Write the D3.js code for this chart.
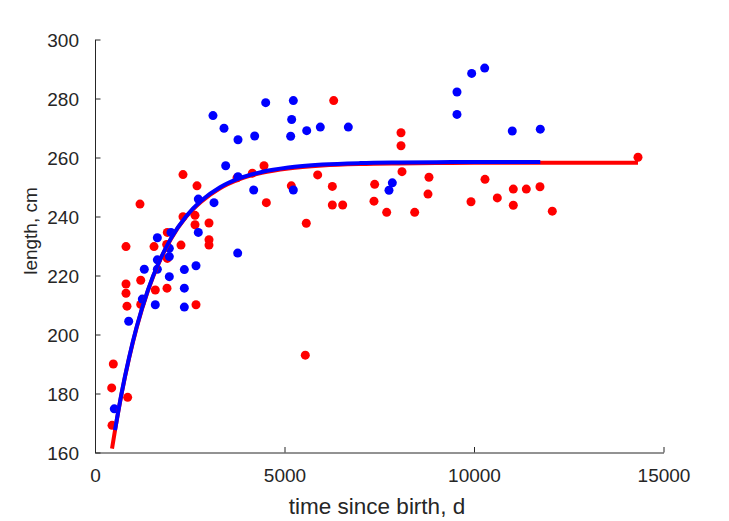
<!DOCTYPE html>
<html>
<head>
<meta charset="utf-8">
<script src="https://cdn.jsdelivr.net/npm/d3@7"></script>
<style>
  html, body { margin: 0; padding: 0; background: #fff; }
  svg { display: block; font-family: "Liberation Sans", Arial, sans-serif; }
</style>
</head>
<body>
<svg id="chart" width="729" height="521"></svg>
<script>
// ---- data ----
const redT = [449, 440, 483, 862, 818, 818, 818, 844, 1187, 1206, 1206, 1557, 1591, 1908, 1891, 1908, 1900,
  2269, 2322, 2322, 2639, 2639, 2665, 2691, 3008, 3008, 3008, 3747, 4152, 4459, 4521, 5180, 5549, 5575,
  5875, 6262, 6262, 6298, 6535, 7361, 7379, 7696, 8074, 8074, 8100, 8435, 8786, 8812, 9921, 10290, 10615,
  11037, 11037, 11380, 11741, 12066, 14327];
const redL = [169.2, 181.9, 190.0, 178.7, 229.8, 217.1, 214.0, 209.6, 244.2, 218.4, 210.2, 229.8, 215.1, 234.6, 230.5, 225.8, 215.7,
  230.3, 254.2, 239.9, 240.4, 237.2, 210.1, 250.4, 237.8, 232.1, 230.3, 253.1, 254.7, 257.2, 244.7, 250.4, 193.0, 237.7,
  254.1, 250.2, 243.9, 279.3, 243.9, 245.2, 250.9, 241.4, 268.4, 264.0, 255.2, 241.4, 247.6, 253.3, 245.0, 252.6, 246.3,
  249.3, 243.8, 249.3, 250.1, 241.8, 260.1];

const blueT = [509, 889, 1248, 1301, 1591, 1645, 1645, 1645, 2005, 1961, 1961, 1961, 2357, 2357, 2357, 2665, 2726, 2726,
  3113, 3140, 3404, 3448, 3765, 3773, 3773, 4187, 4213, 4504, 5163, 5189, 5233, 5233, 5586, 5945, 6684, 7757, 7845,
  9551, 9551, 9939, 10282, 11010, 11749];
const blueL = [174.8, 204.5, 212.0, 222.1, 210.1, 232.8, 225.3, 222.1, 234.6, 229.2, 226.4, 219.6, 222.0, 215.7, 209.3, 223.3, 245.9, 234.6,
  274.2, 244.7, 269.9, 257.2, 227.6, 266.0, 253.5, 249.0, 267.3, 278.6, 267.2, 272.9, 279.3, 249.0, 269.1, 270.3, 270.3, 248.9, 251.4,
  282.2, 274.6, 288.5, 290.3, 269.0, 269.6];

// fitted growth curves
const redFitT = [449, 528, 700, 900, 1100, 1400, 1700, 2000, 2400, 2800, 3300, 3800, 4400, 5100, 6000, 7000, 8000, 9000, 10000, 11749, 14327];
const redFitL = [161.3, 167.5, 179.8, 192.0, 202.4, 215.0, 224.7, 232.3, 239.8, 245.0, 249.6, 252.6, 254.8, 256.3, 257.3, 257.8, 258.0, 258.1, 258.2, 258.2, 258.2];
const blueFitT = [528, 700, 900, 1100, 1400, 1700, 2000, 2400, 2800, 3300, 3800, 4400, 5100, 6000, 7000, 8000, 9000, 10000, 11749];
const blueFitL = [167.6, 180.0, 192.2, 202.6, 215.2, 224.9, 232.5, 240.0, 245.3, 249.9, 252.9, 255.1, 256.6, 257.6, 258.1, 258.3, 258.4, 258.5, 258.5];

const xTicks = [0, 5000, 10000, 15000];
const yTicks = [160, 180, 200, 220, 240, 260, 280, 300];
const xLabel = "time since birth, d";
const yLabel = "length, cm";

// ---- layout ----
const svg = d3.select("#chart");
const L = 95, R = 663.5, T = 39.5, B = 452.5;
const x = d3.scaleLinear().domain([0, 15000]).range([L, R]);
const y = d3.scaleLinear().domain([160, 300]).range([B, T]);
const axisColor = "#262626";

// points
const zip = (a, b) => a.map((v, i) => [v, b[i]]);
svg.append("g").selectAll("circle").data(zip(redT, redL)).join("circle")
  .attr("cx", d => x(d[0])).attr("cy", d => y(d[1])).attr("r", 4.5).attr("fill", "#ff0000");
svg.append("g").selectAll("circle").data(zip(blueT, blueL)).join("circle")
  .attr("cx", d => x(d[0])).attr("cy", d => y(d[1])).attr("r", 4.5).attr("fill", "#0000ff");

// lines
const line = d3.line().x(d => x(d[0])).y(d => y(d[1])).curve(d3.curveMonotoneX);
svg.append("path").attr("d", line(zip(redFitT, redFitL)))
  .attr("fill", "none").attr("stroke", "#ff0000").attr("stroke-width", 4);
svg.append("path").attr("d", line(zip(blueFitT, blueFitL)))
  .attr("fill", "none").attr("stroke", "#0000ff").attr("stroke-width", 4);

// axes
const xAxis = svg.append("g").attr("transform", `translate(0,${B})`)
  .call(d3.axisBottom(x).tickValues(xTicks).tickFormat(d3.format("d")).tickSizeInner(-5.5).tickSizeOuter(0).tickPadding(14));
const yAxis = svg.append("g").attr("transform", `translate(${L},0)`)
  .call(d3.axisLeft(y).tickValues(yTicks).tickFormat(d3.format("d")).tickSizeInner(-5.5).tickSizeOuter(0).tickPadding(14));
[xAxis, yAxis].forEach(g => {
  g.select(".domain").attr("stroke", axisColor).attr("stroke-width", 1);
  g.selectAll(".tick line").attr("stroke", axisColor);
  g.selectAll(".tick text").attr("fill", axisColor).style("font-size", "19px")
    .style("font-family", '"Liberation Sans", Arial, sans-serif');
});
yAxis.selectAll(".tick text").attr("x", -16).attr("dy", "0.35em");
xAxis.selectAll(".tick text").attr("y", 16).attr("dy", "0.71em");

// labels
svg.append("text").attr("x", 377).attr("y", 514)
  .attr("text-anchor", "middle").attr("fill", axisColor).style("font-size", "22.5px").text(xLabel);
svg.append("text").attr("transform", `translate(37,231) rotate(-90)`)
  .attr("text-anchor", "middle").attr("fill", axisColor).style("font-size", "19px").text(yLabel);
</script>
</body>
</html>
